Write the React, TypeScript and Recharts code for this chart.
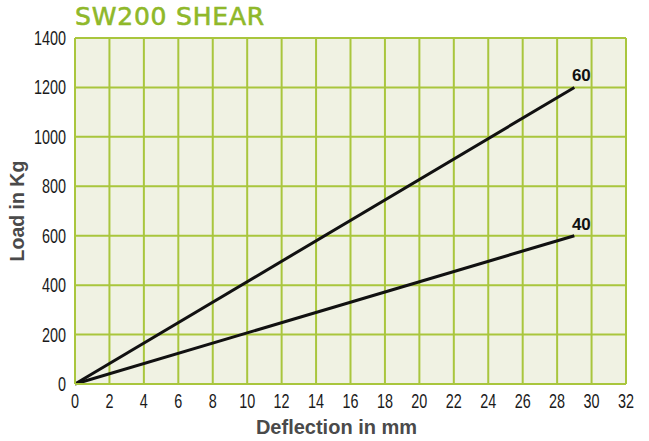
import { LineChart, Line, XAxis, YAxis, CartesianGrid } from 'recharts'

// deflection in mm (x), load in kg per hardness
const deflection = [0, 29]
const load60 = [0, 1200]
const load40 = [0, 600]
const xTicks = [0, 2, 4, 6, 8, 10, 12, 14, 16, 18, 20, 22, 24, 26, 28, 30, 32]
const yTicks = [0, 200, 400, 600, 800, 1000, 1200, 1400]
const seriesNames = ['60', '40']

const data = deflection.map((d, i) => ({ d, s60: load60[i], s40: load40[i] }))

const GREEN = '#a9c63d'
const SANS = '"Liberation Sans", Arial, Helvetica, sans-serif'

// condensed tick text: Liberation Sans squeezed horizontally
function NarrowTick(props: any) {
  const { x, y, payload, textAnchor, orientation } = props
  const isY = orientation === 'left'
  const ty = isY ? y + 7 : y + 16
  const tx = isY ? x - 1 : x
  return (
    <g transform={`translate(${tx},${ty}) scale(0.72,1)`}>
      <text x={0} y={0} textAnchor={textAnchor} fontFamily={SANS} fontSize={20} fill="#1a1a1a">
        {payload.value}
      </text>
    </g>
  )
}

function endLabel(name: string) {
  return (props: any) => {
    const { x, y, index } = props
    if (index !== data.length - 1) return null
    return (
      <text x={x + 7} y={y - 6} textAnchor="middle" fontFamily={SANS} fontWeight="bold" fontSize={17} fill="#111">
        {name}
      </text>
    )
  }
}

export default function App() {
  return (
    <div style={{ position: 'absolute', left: 0, top: 0, width: 649, height: 441, background: '#fff' }}>
      <div style={{ position: 'absolute', left: 75, top: 2, color: '#8fb82a', fontFamily: '"DejaVu Sans", sans-serif', fontSize: 25, letterSpacing: 0.8, WebkitTextStroke: '0.6px #8fb82a' }}>
        SW200 SHEAR
      </div>
      <LineChart width={649} height={441} data={data} margin={{ top: 38, right: 23, left: 0, bottom: 0 }}>
        <CartesianGrid stroke={GREEN} strokeWidth={2} horizontalValues={yTicks} verticalValues={xTicks} fill="#f0f2e3" fillOpacity={1} />
        <XAxis
          dataKey="d"
          type="number"
          domain={[0, 32]}
          ticks={xTicks}
          interval={0}
          tickLine={false}
          axisLine={{ stroke: GREEN, strokeWidth: 2 }}
          tick={<NarrowTick />}
          height={57}
          label={{ value: 'Deflection in mm', position: 'insideBottom', offset: 7, dx: -14, style: { fontFamily: SANS, fontWeight: 'bold', fontSize: 20, fill: '#4a4a4a' } }}
        />
        <YAxis
          type="number"
          domain={[0, 1400]}
          ticks={yTicks}
          interval={0}
          tickLine={false}
          axisLine={{ stroke: GREEN, strokeWidth: 2 }}
          tick={<NarrowTick />}
          width={75}
          label={{ value: 'Load in Kg', angle: -90, position: 'insideLeft', offset: 17, style: { textAnchor: 'middle', fontFamily: SANS, fontWeight: 'bold', fontSize: 19.5, fill: '#4a4a4a' } }}
        />
        <Line dataKey="s60" stroke="#111" strokeWidth={3} dot={false} isAnimationActive={false} label={endLabel(seriesNames[0])} />
        <Line dataKey="s40" stroke="#111" strokeWidth={3} dot={false} isAnimationActive={false} label={endLabel(seriesNames[1])} />
      </LineChart>
    </div>
  )
}
